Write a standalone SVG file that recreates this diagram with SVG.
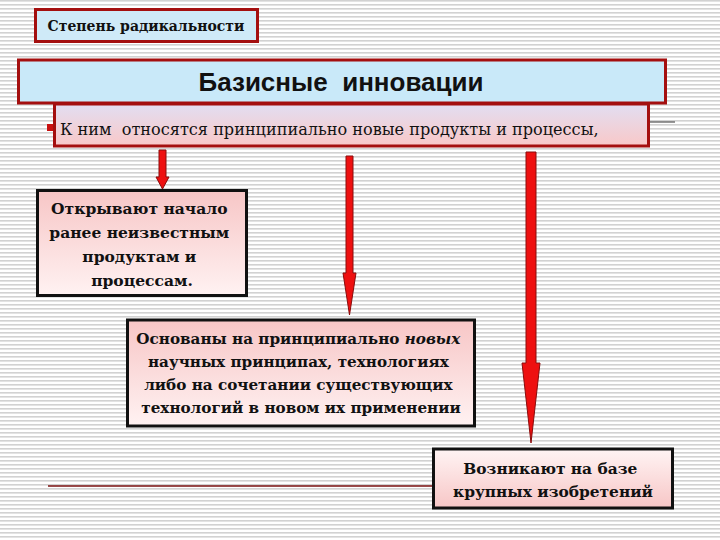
<svg xmlns="http://www.w3.org/2000/svg" width="720" height="540" viewBox="0 0 720 540">
<style>
.ser{font-family:'DejaVu Serif','Liberation Serif',serif;fill:#111;}
.b{font-weight:bold;}
.box{stroke:#111;stroke-width:3;fill:url(#pink);}
.red{stroke:#a40f0f;stroke-width:3;}
.arr{fill:#ee1010;stroke:#8a0c0c;stroke-width:1;}
</style>
<defs>
<pattern id="stripes" width="8" height="4" patternUnits="userSpaceOnUse">
<rect width="8" height="4" fill="#ffffff"/>
<rect y="0" width="8" height="1.6" fill="#d2d2d2"/>
</pattern>
<linearGradient id="pink" x1="0" y1="0" x2="0" y2="1">
<stop offset="0" stop-color="#f7c6c6"/>
<stop offset="1" stop-color="#fff2f2"/>
</linearGradient>
<linearGradient id="pink3" x1="0" y1="0" x2="0" y2="1">
<stop offset="0" stop-color="#fff4f4"/>
<stop offset="1" stop-color="#f7c6c6"/>
</linearGradient>
<linearGradient id="lav" x1="0" y1="0" x2="0" y2="1">
<stop offset="0" stop-color="#e2def2"/>
<stop offset="1" stop-color="#f9c8c8"/>
</linearGradient>
</defs>
<rect width="720" height="540" fill="url(#stripes)"/>

<g id="connectors">
<line x1="649" y1="122" x2="675" y2="122" stroke="#333" stroke-width="1"/>
<line x1="48" y1="486" x2="432" y2="486" stroke="#7a1010" stroke-width="1.5"/>
<path class="arr" d="M159,150 H166 V177 H169 L162.5,189 L156,177 H159 Z"/>
<path class="arr" d="M346,156 H353 V273 H356 L349.5,315 L343,273 H346 Z"/>
<path class="arr" d="M526,152 H536 V363 H540 L531,443 L522,363 H526 Z"/>
</g>

<g id="degree">
<rect x="35.5" y="9.5" width="222" height="32" fill="#cfeaf8" class="red"/>
<text x="146" y="31" class="ser b" font-family="'DejaVu Serif','Liberation Serif',serif" font-size="14" text-anchor="middle">Степень радикальности</text>
</g>

<g id="basic">
<rect x="18.5" y="60" width="647" height="43" fill="#c9e9f9" class="red"/>
<text x="341" y="91" font-family="'Liberation Sans',Arial,sans-serif" font-weight="bold" font-size="26" fill="#111" text-anchor="middle" xml:space="preserve">Базисные  инновации</text>
</g>

<g id="definition">
<rect x="54.5" y="104" width="594" height="42" fill="url(#lav)" class="red"/>
<rect x="47" y="124" width="6" height="7" fill="#c81010"/>
<text x="60" y="135" class="ser" font-family="'DejaVu Serif','Liberation Serif',serif" font-size="16.1" xml:space="preserve">К ним  относятся принципиально новые продукты и процессы,</text>
</g>

<g id="box1">
<rect x="37.5" y="190.5" width="209" height="105" class="box"/>
<text class="ser b" font-family="'DejaVu Serif','Liberation Serif',serif" font-size="15.5" text-anchor="middle">
<tspan x="142" y="214">Открывают начало</tspan>
<tspan x="142" y="238">ранее неизвестным</tspan>
<tspan x="142" y="262">продуктам и</tspan>
<tspan x="142" y="286">процессам.</tspan>
</text>
</g>

<g id="box2">
<rect x="127.5" y="320" width="347" height="106" class="box"/>
<text class="ser b" font-family="'DejaVu Serif','Liberation Serif',serif" font-size="15.2" text-anchor="middle">
<tspan x="301" y="344">Основаны на принципиально <tspan font-style="italic">новых</tspan></tspan>
<tspan x="301" y="367">научных принципах, технологиях</tspan>
<tspan x="301" y="390">либо на сочетании существующих</tspan>
<tspan x="301" y="413">технологий в новом их применении</tspan>
</text>
</g>

<g id="box3">
<rect x="433.5" y="449" width="239" height="59" class="box" style="fill:url(#pink3)"/>
<text class="ser b" font-family="'DejaVu Serif','Liberation Serif',serif" font-size="15.4" text-anchor="middle">
<tspan x="553" y="474">Возникают на базе</tspan>
<tspan x="553" y="497">крупных изобретений</tspan>
</text>
</g>
</svg>
